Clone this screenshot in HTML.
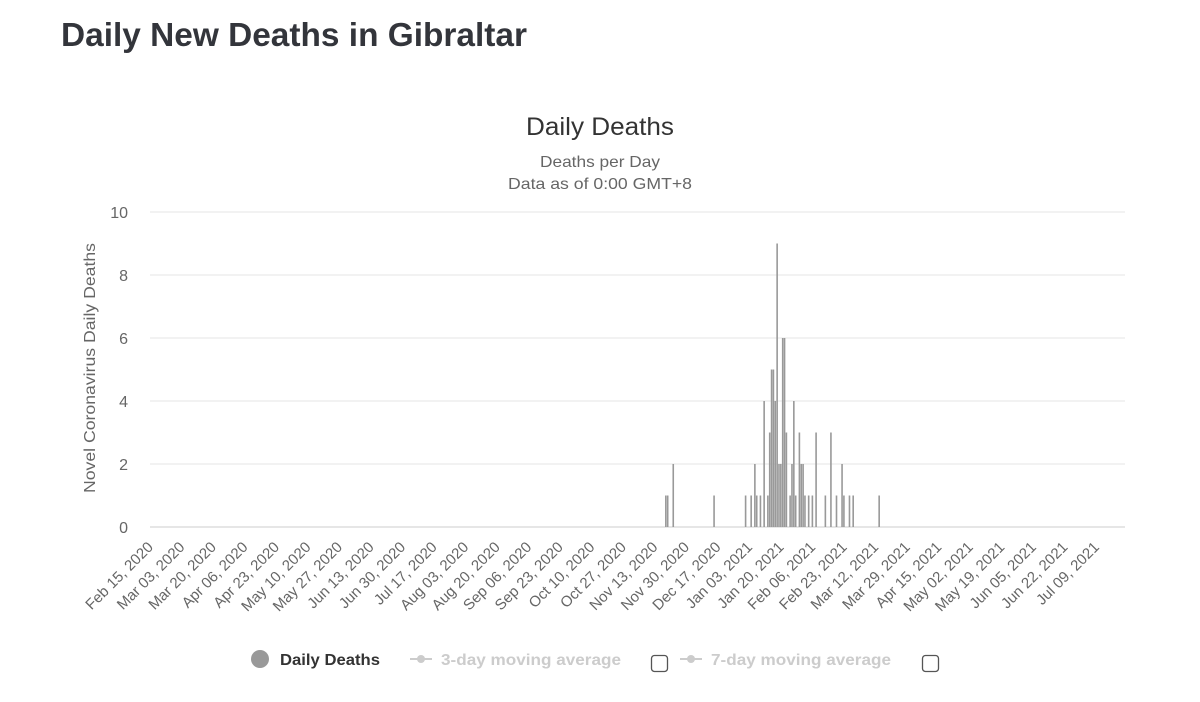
<!DOCTYPE html>
<html><head><meta charset="utf-8"><style>
html,body{margin:0;padding:0;background:#fff;}
svg{display:block;font-family:"Liberation Sans",sans-serif;}
</style></head><body>
<svg id="chart" width="1200" height="702" viewBox="0 0 1200 702">
<text x="61" y="46" font-size="33" font-weight="bold" fill="#33353b" textLength="466" lengthAdjust="spacingAndGlyphs">Daily New Deaths in Gibraltar</text>
<text x="600" y="135" font-size="25" fill="#333" text-anchor="middle" textLength="148" lengthAdjust="spacingAndGlyphs">Daily Deaths</text>
<text x="600" y="167" font-size="16" fill="#666" text-anchor="middle" textLength="120" lengthAdjust="spacingAndGlyphs">Deaths per Day</text>
<text x="600" y="189" font-size="16" fill="#666" text-anchor="middle" textLength="184" lengthAdjust="spacingAndGlyphs">Data as of 0:00 GMT+8</text>
<text transform="translate(95,368) rotate(-90)" font-size="16" fill="#666" text-anchor="middle" textLength="250" lengthAdjust="spacingAndGlyphs">Novel Coronavirus Daily Deaths</text>
<g id="grid"></g><g id="bars"></g><g id="xlabels"></g>
<g>
<g><circle cx="260" cy="659" r="9" fill="#999"/><text x="280" y="665" font-size="16" font-weight="bold" fill="#333" textLength="100" lengthAdjust="spacingAndGlyphs">Daily Deaths</text></g>
<g><line x1="410" y1="659" x2="432" y2="659" stroke="#ccc" stroke-width="2"/><circle cx="421" cy="659" r="4" fill="#ccc"/><text x="441" y="665" font-size="16" font-weight="bold" fill="#ccc" textLength="180" lengthAdjust="spacingAndGlyphs">3-day moving average</text></g>
<rect x="651.5" y="655.5" width="16" height="16" rx="3" fill="#fff" stroke="#555" stroke-width="1.3"/>
<g><line x1="680" y1="659" x2="702" y2="659" stroke="#ccc" stroke-width="2"/><circle cx="691" cy="659" r="4" fill="#ccc"/><text x="711" y="665" font-size="16" font-weight="bold" fill="#ccc" textLength="180" lengthAdjust="spacingAndGlyphs">7-day moving average</text></g>
<rect x="922.5" y="655.5" width="16" height="16" rx="3" fill="#fff" stroke="#555" stroke-width="1.3"/>
</g>
</svg>
<script>
const yTicks=[0,2,4,6,8,10];
const dayOffsets=[277,278,281,303,320,323,325,326,328,330,332,333,334,335,336,337,338,339,340,341,342,344,345,346,347,349,350,351,352,354,356,358,363,366,369,372,373,376,378,392];
const deaths=[1,1,2,1,1,1,2,1,1,4,1,3,5,5,4,9,2,2,6,6,3,1,2,4,1,3,2,2,1,1,1,3,1,3,1,2,1,1,1,1];
const tickEveryDays=17;
const tickCount=31;
const startDate=new Date(Date.UTC(2020,1,15));
const NS="http://www.w3.org/2000/svg";
const X0=152,DAYW=1.855,Y0=527,YUNIT=31.5;
const xs=d=>X0+d*DAYW, ys=v=>Y0-v*YUNIT;
function mk(t,a){const e=document.createElementNS(NS,t);for(const k in a)e.setAttribute(k,a[k]);return e;}
const grid=document.getElementById('grid');
yTicks.forEach(v=>{
 const l=mk('line',{x1:150,x2:1125,y1:ys(v),y2:ys(v),stroke:v===0?'#ccc':'#e6e6e6','stroke-width':1});
 
 
 grid.appendChild(l);
 const t=mk('text',{x:128,y:ys(v)+6,'font-size':16,fill:'#666','text-anchor':'end'});
 t.textContent=v;
 
 
 grid.appendChild(t);
});
const bars=document.getElementById('bars');
dayOffsets.forEach((d,i)=>{
 const r=mk('rect',{x:xs(d)-0.8,y:ys(deaths[i]),width:1.6,height:deaths[i]*YUNIT,fill:'#999'});
 
 
 bars.appendChild(r);
});
const M=['Jan','Feb','Mar','Apr','May','Jun','Jul','Aug','Sep','Oct','Nov','Dec'];
const xl=document.getElementById('xlabels');
for(let i=0;i<tickCount;i++){
 const d=i*tickEveryDays;
 const dt=new Date(startDate.getTime()+d*86400000);
 const s=M[dt.getUTCMonth()]+' '+String(dt.getUTCDate()).padStart(2,'0')+', '+dt.getUTCFullYear();
 const x=xs(d)+2;
 const t=mk('text',{transform:`translate(${x},548) rotate(-45)`,'font-size':15,fill:'#666','text-anchor':'end'});
 t.textContent=s;
 
 
 xl.appendChild(t);
}
</script>
</body></html>
